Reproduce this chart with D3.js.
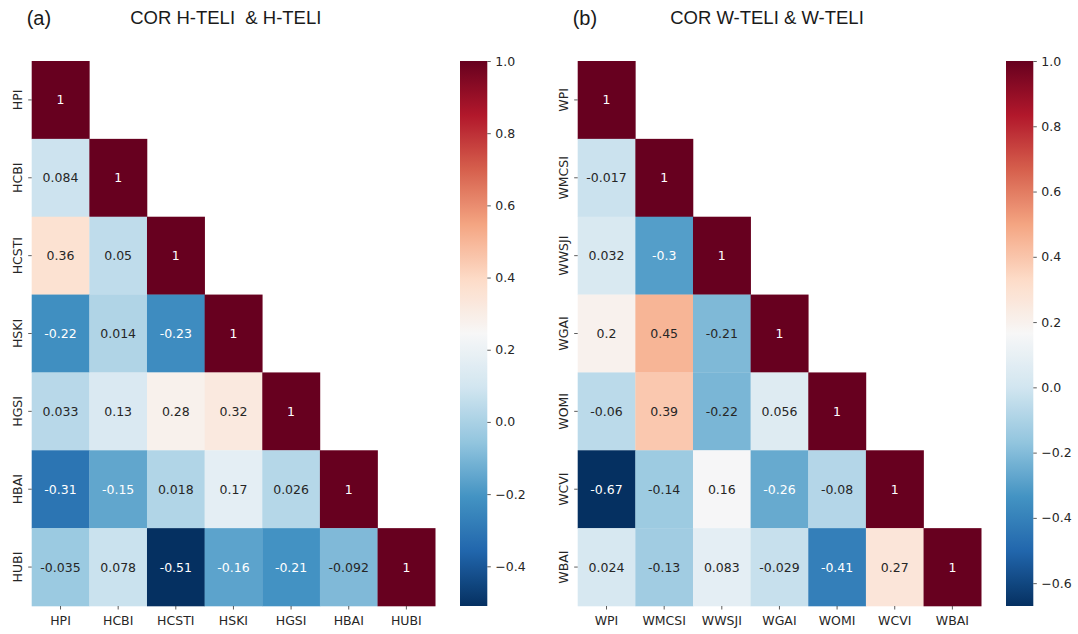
<!doctype html>
<html>
<head>
<meta charset="utf-8">
<script src="https://d3js.org/d3.v7.min.js"></script>
<style>
  body { margin: 0; background: #fff; }
  .tick text { font-family: "DejaVu Sans", sans-serif; font-size: 12.5px; fill: #262626; }
  .tick line { stroke: #333; stroke-width: 0.8; }
  .title { font-family: "Liberation Sans", Arial, sans-serif; font-size: 18.5px; fill: #1a1a1a; }
  .tag { font-family: "Liberation Sans", Arial, sans-serif; font-size: 20px; fill: #1a1a1a; }
  .annot { font-family: "DejaVu Sans", sans-serif; font-size: 12.5px; }
</style>
</head>
<body>
<div id="chart"></div>
<script>

// ---- data ----
var hLabels = ["HPI", "HCBI", "HCSTI", "HSKI", "HGSI", "HBAI", "HUBI"];
var hValues = [
    [1],
    [0.084, 1],
    [0.36, 0.05, 1],
    [-0.22, 0.014, -0.23, 1],
    [0.033, 0.13, 0.28, 0.32, 1],
    [-0.31, -0.15, 0.018, 0.17, 0.026, 1],
    [-0.035, 0.078, -0.51, -0.16, -0.21, -0.092, 1]
];
var hTicks = [-0.4, -0.2, 0.0, 0.2, 0.4, 0.6, 0.8, 1.0];

var wLabels = ["WPI", "WMCSI", "WWSJI", "WGAI", "WOMI", "WCVI", "WBAI"];
var wValues = [
    [1],
    [-0.017, 1],
    [0.032, -0.3, 1],
    [0.2, 0.45, -0.21, 1],
    [-0.06, 0.39, -0.22, 0.056, 1],
    [-0.67, -0.14, 0.16, -0.26, -0.08, 1],
    [0.024, -0.13, 0.083, -0.029, -0.41, 0.27, 1]
];
var wTicks = [-0.6, -0.4, -0.2, 0.0, 0.2, 0.4, 0.6, 0.8, 1.0];

var panelTags = ["(a)", "(b)"];
var panelTitles = ["COR H-TELI\u00a0\u00a0& H-TELI", "COR W-TELI & W-TELI"];

// matplotlib RdBu_r (linear between the brewer colours)
var rdbu_r = ["#053061","#2166ac","#4393c3","#92c5de","#d1e5f0","#f7f7f7",
              "#fddbc7","#f4a582","#d6604d","#b2182b","#67001f"];
var cmap = d3.scaleLinear()
    .domain(d3.range(11).map(function(i){ return i / 10; }))
    .range(rdbu_r)
    .interpolate(d3.interpolateRgb)
    .clamp(true);

var svg = d3.select("#chart").append("svg")
    .attr("width", 1078)
    .attr("height", 634);

var defs = svg.append("defs");

function luminance(c) {
    var rgb = d3.rgb(c);
    var f = function(v) {
        v = v / 255;
        return v <= 0.03928 ? v / 12.92 : Math.pow((v + 0.055) / 1.055, 2.4);
    };
    return 0.2126 * f(rgb.r) + 0.7152 * f(rgb.g) + 0.0722 * f(rgb.b);
}

function drawPanel(idx, labels, values, ticks, left, cbLeft) {
    var top = 61, bottom = 606, w = 403.5, cbW = 27.3;
    var vmin = d3.min(values, function(r){ return d3.min(r); });
    var vmax = 1;
    var color = function(v){ return cmap((v - vmin) / (vmax - vmin)); };

    var x = d3.scaleBand().domain(labels).range([left, left + w]);
    var y = d3.scaleBand().domain(labels).range([top, bottom]);

    var cells = [];
    values.forEach(function(row, i) {
        row.forEach(function(v, j) {
            cells.push({ row: labels[i], col: labels[j], value: v });
        });
    });

    var g = svg.append("g");
    g.selectAll("rect")
        .data(cells)
        .join("rect")
        .attr("x", function(d){ return x(d.col); })
        .attr("y", function(d){ return y(d.row); })
        .attr("width", x.bandwidth() + 0.3)
        .attr("height", y.bandwidth() + 0.3)
        .attr("fill", function(d){ return color(d.value); });

    g.selectAll("text")
        .data(cells)
        .join("text")
        .attr("class", "annot")
        .attr("x", function(d){ return x(d.col) + x.bandwidth() / 2; })
        .attr("y", function(d){ return y(d.row) + y.bandwidth() / 2; })
        .attr("dy", "0.36em")
        .attr("text-anchor", "middle")
        .attr("fill", function(d){ return luminance(color(d.value)) > 0.408 ? "#262626" : "#ffffff"; })
        .text(function(d){ return d3.format("")(d.value).replace("\u2212", "-"); });

    // axes
    var xa = svg.append("g")
        .attr("transform", "translate(0," + bottom + ")")
        .call(d3.axisBottom(x).tickSize(3.5).tickPadding(6.5));
    xa.select(".domain").remove();

    var ya = svg.append("g")
        .attr("transform", "translate(" + left + ",0)")
        .call(d3.axisLeft(y).tickSize(3.5));
    ya.select(".domain").remove();
    ya.selectAll(".tick text")
        .attr("transform", "rotate(-90)")
        .attr("x", 0)
        .attr("y", -9.5)
        .attr("dy", 0)
        .attr("text-anchor", "middle");

    // colorbar
    var cb = d3.scaleLinear().domain([vmin, vmax]).range([bottom, top]);
    var gid = "grad" + idx;
    var grad = defs.append("linearGradient")
        .attr("id", gid)
        .attr("x1", 0).attr("y1", 1).attr("x2", 0).attr("y2", 0);
    grad.selectAll("stop")
        .data(d3.range(0, 1.0001, 0.02))
        .join("stop")
        .attr("offset", function(t){ return t; })
        .attr("stop-color", function(t){ return cmap(t); });
    svg.append("rect")
        .attr("x", cbLeft)
        .attr("y", top)
        .attr("width", cbW)
        .attr("height", bottom - top)
        .attr("fill", "url(#" + gid + ")");
    var ca = svg.append("g")
        .attr("transform", "translate(" + (cbLeft + cbW) + ",0)")
        .call(d3.axisRight(cb).tickValues(ticks).tickFormat(d3.format(".1f")).tickSize(3.5).tickPadding(4.5));
    ca.select(".domain").remove();

    // titles
    svg.append("text")
        .attr("class", "tag")
        .attr("x", left - 5)
        .attr("y", 25)
        .text(panelTags[idx]);
    svg.append("text")
        .attr("class", "title")
        .attr("x", left + 98.5 - idx * 6)
        .attr("y", 24)
        .text(panelTitles[idx]);
}

drawPanel(0, hLabels, hValues, hTicks, 31.7, 460);
drawPanel(1, wLabels, wValues, wTicks, 577.7, 1006);

</script>
</body>
</html>
